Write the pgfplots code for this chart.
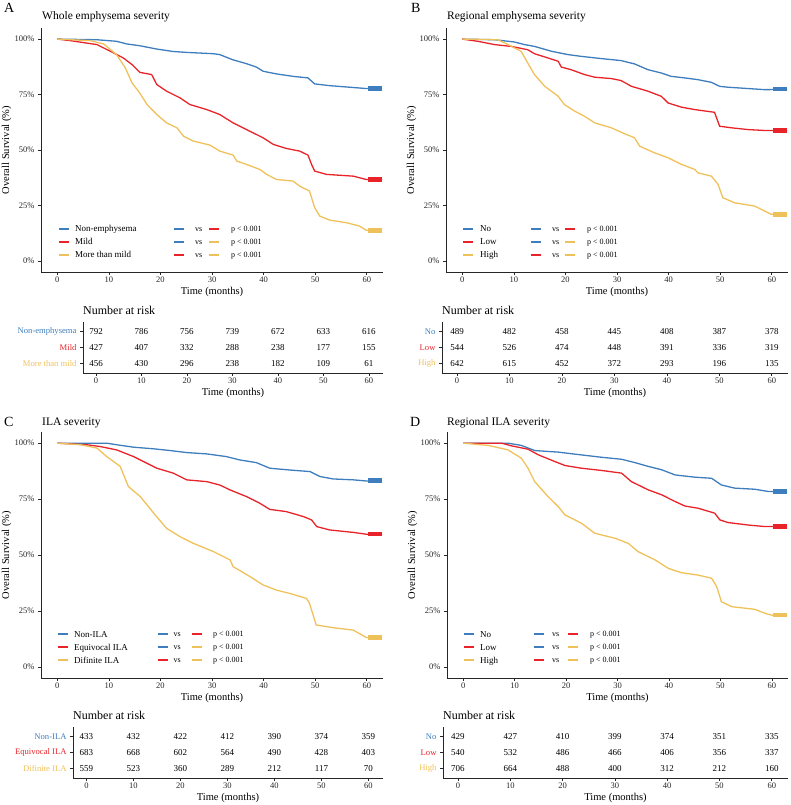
\documentclass[border=0pt]{standalone}
\usepackage{fontspec}
\setmainfont{Liberation Serif}
\usepackage{pgfplots}
\pgfplotsset{compat=1.18}
\definecolor{cblue}{HTML}{3E7EBE}
\definecolor{cred}{HTML}{E8242A}
\definecolor{cyel}{HTML}{EFC15A}
\newcommand{\fs}[1]{\fontsize{#1}{#1}\selectfont}
\pgfplotsset{
  base/.style={scale only axis, axis lines*=left,
    axis line style={-, black!85, line width=0.9pt},
    tick align=outside, major tick length=3pt, tick style={black!85, line width=0.6pt},
    /pgf/number format/assume math mode=true,
    tick label style={font=\fs{8.5}, text=black!85},
    xticklabel style={inner sep=1.5pt},
    label style={font=\fs{10.5}},
    xtick={0,10,...,60}, xlabel={Time (months)}},
  km/.style={base, xmin=-3.15, xmax=63.15, ymin=-0.05, ymax=1.05,
    ytick={0,0.25,0.5,0.75,1}, yticklabels={0\%,25\%,50\%,75\%,100\%},
    ylabel={Overall Survival (\%)}, ylabel style={yshift=-3.5pt}},
  risk/.style={base, height=51pt, xmin=-2.86, xmax=63.1, ymin=0.4, ymax=3.6, ytick={1,2,3},
    yticklabel style={font=\fs{8.6}}},
  cur/.style={line width=1.3pt, #1},
  cens/.style={line width=4.5pt, #1},
  nums/.style={draw=none, mark=none, point meta=explicit symbolic, nodes near coords,
    nodes near coords align=center,
    every node near coord/.append style={font=\fs{9}, text=black, anchor=center}},
}
\newcommand{\leg}[5]{%
  \draw[#4, line width=1.6pt] (#1,805-#3) -- (#1+10,805-#3);
  \node[anchor=base west, inner sep=0pt, font=\fs{9}] at (#2,805-#3-3) {#5};}
\newcommand{\cmp}[7]{%
  \draw[#6, line width=1.6pt] (#1,805-#5) -- (#1+10,805-#5);
  \node[anchor=base west, inner sep=0pt, font=\fs{8}] at (#2,805-#5-2.5) {vs};
  \draw[#7, line width=1.6pt] (#3,805-#5) -- (#3+10,805-#5);
  \node[anchor=base west, inner sep=0pt, font=\fs{8}] at (#4,805-#5-2.5) {p < 0.001};}
\begin{document}
\begin{tikzpicture}
\path[use as bounding box] (0pt,0pt) rectangle (790pt,805pt);
% ================= Panel A =================
\begin{axis}[km, width=342pt, height=244pt, at={(41pt,533pt)}, anchor=south west]
\addplot[cur=cblue] coordinates {(0,1)(7.7,0.997)(11.5,0.99)(13.5,0.978)(16,0.97)(19.3,0.955)(22.5,0.944)(25,0.94)(30.3,0.934)(31.5,0.93)(34,0.907)(36.7,0.889)(38.6,0.874)(39.9,0.855)(42.5,0.843)(45.7,0.832)(48.6,0.825)(49.9,0.798)(52.8,0.79)(56.7,0.783)(59.9,0.777)(63,0.777)};
\addplot[cens=cblue] coordinates {(60.3,0.777)(63,0.777)};
\addplot[cur=cred] coordinates {(0,1)(2.5,0.993)(5.7,0.982)(7.7,0.975)(10.3,0.945)(12.8,0.915)(14.5,0.885)(16,0.85)(18.3,0.84)(19.3,0.795)(21.2,0.765)(23.8,0.735)(25.7,0.705)(29,0.682)(31.5,0.66)(34.1,0.622)(36.7,0.592)(39.9,0.555)(41.9,0.525)(44.4,0.507)(47,0.495)(48.6,0.477)(49.3,0.435)(49.9,0.405)(52.2,0.39)(57.4,0.382)(59.9,0.367)(63,0.365)};
\addplot[cens=cred] coordinates {(60.3,0.366)(63,0.366)};
\addplot[cur=cyel] coordinates {(0,1)(6.4,0.993)(9,0.978)(11.5,0.93)(13.2,0.87)(14.5,0.802)(16,0.757)(17.4,0.705)(19.3,0.66)(21.2,0.622)(23.2,0.6)(24.5,0.562)(26.4,0.54)(29.6,0.522)(31.5,0.495)(34.1,0.477)(34.8,0.45)(36.7,0.435)(39.3,0.412)(40.6,0.39)(42.5,0.367)(45.7,0.36)(47,0.337)(48.9,0.315)(49.9,0.24)(50.9,0.202)(52.8,0.184)(56.1,0.172)(58.6,0.157)(59.9,0.138)(63,0.138)};
\addplot[cens=cyel] coordinates {(60.3,0.138)(63,0.138)};
\end{axis}
\begin{axis}[risk, width=300pt, at={(83pt,432pt)}, anchor=south west,
  yticklabels={\textcolor{cyel}{More than mild},\textcolor{cred}{Mild},\textcolor{cblue}{Non-emphysema}}]
\addplot[nums] coordinates {(0,3)[792](10,3)[786](20,3)[756](30,3)[739](40,3)[672](50,3)[633](60,3)[616]};
\addplot[nums] coordinates {(0,2)[427](10,2)[407](20,2)[332](30,2)[288](40,2)[238](50,2)[177](60,2)[155]};
\addplot[nums] coordinates {(0,1)[456](10,1)[430](20,1)[296](30,1)[238](40,1)[182](50,1)[109](60,1)[61]};
\end{axis}
% ================= Panel B =================
\begin{axis}[km, width=342pt, height=244pt, at={(446pt,533pt)}, anchor=south west]
\addplot[cur=cblue] coordinates {(0,1)(6.3,0.997)(10.1,0.987)(12.1,0.975)(14,0.967)(17.3,0.945)(20.5,0.93)(23.1,0.922)(27,0.912)(30.8,0.903)(33.4,0.888)(36,0.862)(38.6,0.847)(40.5,0.832)(43.1,0.825)(45.7,0.817)(48.3,0.805)(49.9,0.787)(51.5,0.783)(55.4,0.777)(58.6,0.772)(63,0.773)};
\addplot[cens=cblue] coordinates {(60.3,0.774)(63,0.774)};
\addplot[cur=cred] coordinates {(0,1)(3,0.99)(6.3,0.975)(9.5,0.967)(12.7,0.952)(14,0.934)(16.6,0.915)(18.6,0.9)(19.2,0.874)(21.1,0.862)(23.7,0.84)(25.7,0.828)(28.9,0.822)(30.8,0.813)(32.8,0.787)(36,0.765)(38.6,0.742)(39.9,0.712)(42.5,0.693)(45.1,0.682)(48.9,0.67)(49.9,0.607)(52.2,0.6)(55.4,0.592)(58.6,0.588)(63,0.588)};
\addplot[cens=cred] coordinates {(60.3,0.588)(63,0.588)};
\addplot[cur=cyel] coordinates {(0,1)(6.9,0.997)(8.9,0.975)(11.4,0.945)(12.7,0.892)(14,0.84)(16,0.787)(18.6,0.742)(19.8,0.705)(21.8,0.675)(23.7,0.652)(25.7,0.622)(28.9,0.6)(31.5,0.573)(33.4,0.555)(34.4,0.517)(37.3,0.487)(39.9,0.465)(42.5,0.435)(45.1,0.412)(45.7,0.397)(48.3,0.382)(49.6,0.345)(50.5,0.285)(52.8,0.262)(56.7,0.247)(58.6,0.225)(59.9,0.21)(63,0.21)};
\addplot[cens=cyel] coordinates {(60.3,0.21)(63,0.21)};
\end{axis}
\begin{axis}[risk, width=346pt, at={(442pt,432pt)}, anchor=south west,
  yticklabels={\textcolor{cyel}{High},\textcolor{cred}{Low},\textcolor{cblue}{No}}]
\addplot[nums] coordinates {(0,3)[489](10,3)[482](20,3)[458](30,3)[445](40,3)[408](50,3)[387](60,3)[378]};
\addplot[nums] coordinates {(0,2)[544](10,2)[526](20,2)[474](30,2)[448](40,2)[391](50,2)[336](60,2)[319]};
\addplot[nums] coordinates {(0,1)[642](10,1)[615](20,1)[452](30,1)[372](40,1)[293](50,1)[196](60,1)[135]};
\end{axis}
% ================= Panel C =================
\begin{axis}[km, width=342pt, height=246pt, at={(41pt,127pt)}, anchor=south west]
\addplot[cur=cblue] coordinates {(0,1)(9.6,1)(11.5,0.993)(14.8,0.982)(18.6,0.975)(21.9,0.967)(25.1,0.958)(29,0.952)(32.8,0.94)(35.4,0.925)(38.6,0.913)(41.2,0.888)(45.1,0.88)(49,0.873)(50.9,0.851)(53.5,0.84)(57.4,0.836)(59.9,0.831)(63,0.832)};
\addplot[cens=cblue] coordinates {(60.3,0.832)(63,0.832)};
\addplot[cur=cred] coordinates {(0,1)(5.7,0.993)(8.3,0.985)(11.5,0.97)(14.8,0.94)(17.4,0.91)(19.3,0.888)(22.5,0.866)(25.1,0.836)(29,0.828)(31.5,0.813)(33.5,0.791)(36.7,0.761)(39.3,0.731)(41.2,0.704)(44.4,0.694)(47.7,0.672)(49.3,0.657)(50.3,0.627)(52.8,0.612)(57.4,0.601)(59.9,0.593)(63,0.593)};
\addplot[cens=cred] coordinates {(60.3,0.593)(63,0.593)};
\addplot[cur=cyel] coordinates {(0,1)(4.5,0.993)(7.7,0.978)(9.6,0.94)(12.2,0.896)(13.8,0.806)(16.1,0.761)(18.7,0.687)(21.2,0.619)(23.8,0.582)(26.4,0.552)(30.3,0.515)(33.5,0.478)(34.1,0.448)(37.4,0.403)(39.9,0.366)(42.5,0.343)(45.1,0.328)(48.3,0.306)(48.9,0.284)(50.2,0.187)(53.5,0.175)(57.4,0.164)(59.9,0.131)(63,0.131)};
\addplot[cens=cyel] coordinates {(60.3,0.131)(63,0.131)};
\end{axis}
\begin{axis}[risk, width=310pt, at={(73pt,27pt)}, anchor=south west,
  yticklabels={\textcolor{cyel}{Difinite ILA},\textcolor{cred}{Equivocal ILA},\textcolor{cblue}{Non-ILA}}]
\addplot[nums] coordinates {(0,3)[433](10,3)[432](20,3)[422](30,3)[412](40,3)[390](50,3)[374](60,3)[359]};
\addplot[nums] coordinates {(0,2)[683](10,2)[668](20,2)[602](30,2)[564](40,2)[490](50,2)[428](60,2)[403]};
\addplot[nums] coordinates {(0,1)[559](10,1)[523](20,1)[360](30,1)[289](40,1)[212](50,1)[117](60,1)[70]};
\end{axis}
% ================= Panel D =================
\begin{axis}[km, width=341pt, height=246pt, at={(447pt,127pt)}, anchor=south west]
\addplot[cur=cblue] coordinates {(0,1)(8.7,1)(11.3,0.99)(13.9,0.967)(18.5,0.96)(21.7,0.951)(26.9,0.937)(30.8,0.928)(33.4,0.913)(36,0.896)(38.6,0.881)(41.2,0.858)(45,0.848)(48.3,0.843)(50.2,0.813)(52.8,0.799)(56.7,0.794)(59.3,0.784)(63,0.784)};
\addplot[cens=cblue] coordinates {(60.3,0.784)(63,0.784)};
\addplot[cur=cred] coordinates {(0,1)(7.5,1)(9.4,0.988)(12.6,0.973)(14.6,0.948)(17.8,0.918)(19.8,0.9)(23,0.888)(26.9,0.878)(30.8,0.866)(32.7,0.828)(36,0.791)(38.6,0.769)(41.2,0.739)(43.1,0.719)(45.7,0.709)(48.9,0.687)(49.9,0.657)(51.5,0.645)(55.4,0.634)(58.7,0.627)(63,0.627)};
\addplot[cens=cred] coordinates {(60.3,0.627)(63,0.627)};
\addplot[cur=cyel] coordinates {(0,1)(4.9,0.99)(8.7,0.97)(11.3,0.933)(12.6,0.888)(13.9,0.828)(16.5,0.761)(18.5,0.716)(19.8,0.679)(23,0.642)(25.6,0.597)(29.5,0.575)(32.1,0.552)(34,0.515)(37.3,0.478)(39.9,0.44)(42.4,0.421)(45.7,0.41)(48.3,0.396)(49.3,0.358)(50.2,0.291)(52.2,0.269)(56.7,0.257)(58.7,0.239)(60,0.231)(63,0.231)};
\addplot[cens=cyel] coordinates {(60.3,0.231)(63,0.231)};
\end{axis}
\begin{axis}[risk, width=345pt, at={(443pt,27pt)}, anchor=south west,
  yticklabels={\textcolor{cyel}{High},\textcolor{cred}{Low},\textcolor{cblue}{No}}]
\addplot[nums] coordinates {(0,3)[429](10,3)[427](20,3)[410](30,3)[399](40,3)[374](50,3)[351](60,3)[335]};
\addplot[nums] coordinates {(0,2)[540](10,2)[532](20,2)[486](30,2)[466](40,2)[406](50,2)[356](60,2)[337]};
\addplot[nums] coordinates {(0,1)[706](10,1)[664](20,1)[488](30,1)[400](40,1)[312](50,1)[212](60,1)[160]};
\end{axis}
% ================= annotations =================
\begin{scope}[x=1pt, y=1pt]
\node[anchor=base west, inner sep=0pt, font=\fs{14}] at (4,792.3) {A};
\node[anchor=base west, inner sep=0pt, font=\fs{11.5}] at (42,785.8) {Whole emphysema severity};
\node[anchor=base west, inner sep=0pt, font=\fs{14}] at (411,792.3) {B};
\node[anchor=base west, inner sep=0pt, font=\fs{11.5}] at (447,785.8) {Regional emphysema severity};
\node[anchor=base west, inner sep=0pt, font=\fs{14}] at (4,378.3) {C};
\node[anchor=base west, inner sep=0pt, font=\fs{11.5}] at (42,379.3) {ILA severity};
\node[anchor=base west, inner sep=0pt, font=\fs{14}] at (410,378.3) {D};
\node[anchor=base west, inner sep=0pt, font=\fs{11.5}] at (447,379.3) {Regional ILA severity};
\node[anchor=base west, inner sep=0pt, font=\fs{12}] at (83,490.7) {Number at risk};
\node[anchor=base west, inner sep=0pt, font=\fs{12}] at (442,490.7) {Number at risk};
\node[anchor=base west, inner sep=0pt, font=\fs{12}] at (73,85) {Number at risk};
\node[anchor=base west, inner sep=0pt, font=\fs{12}] at (443,85) {Number at risk};
% legends A
\leg{59}{75}{229}{cblue}{Non-emphysema}
\leg{59}{75}{242}{cred}{Mild}
\leg{59}{75}{255}{cyel}{More than mild}
\cmp{174}{195}{209}{231}{229}{cblue}{cred}
\cmp{174}{195}{209}{231}{242}{cblue}{cyel}
\cmp{174}{195}{209}{231}{255}{cred}{cyel}
% legends B
\leg{463}{480}{229}{cblue}{No}
\leg{463}{480}{242}{cred}{Low}
\leg{463}{480}{255}{cyel}{High}
\cmp{531}{552}{565}{587}{229}{cblue}{cred}
\cmp{531}{552}{565}{587}{242}{cblue}{cyel}
\cmp{531}{552}{565}{587}{255}{cred}{cyel}
% legends C
\leg{58}{74}{634.3}{cblue}{Non-ILA}
\leg{58}{74}{647.3}{cred}{Equivocal ILA}
\leg{58}{74}{660.3}{cyel}{Difinite ILA}
\cmp{158}{173.5}{192}{213}{634.3}{cblue}{cred}
\cmp{158}{173.5}{192}{213}{647.3}{cblue}{cyel}
\cmp{158}{173.5}{192}{213}{660.3}{cred}{cyel}
% legends D
\leg{464}{480}{634.3}{cblue}{No}
\leg{464}{480}{647.3}{cred}{Low}
\leg{464}{480}{660.3}{cyel}{High}
\cmp{534}{552}{568}{590}{634.3}{cblue}{cred}
\cmp{534}{552}{568}{590}{647.3}{cblue}{cyel}
\cmp{534}{552}{568}{590}{660.3}{cred}{cyel}
\end{scope}
\end{tikzpicture}
\end{document}
